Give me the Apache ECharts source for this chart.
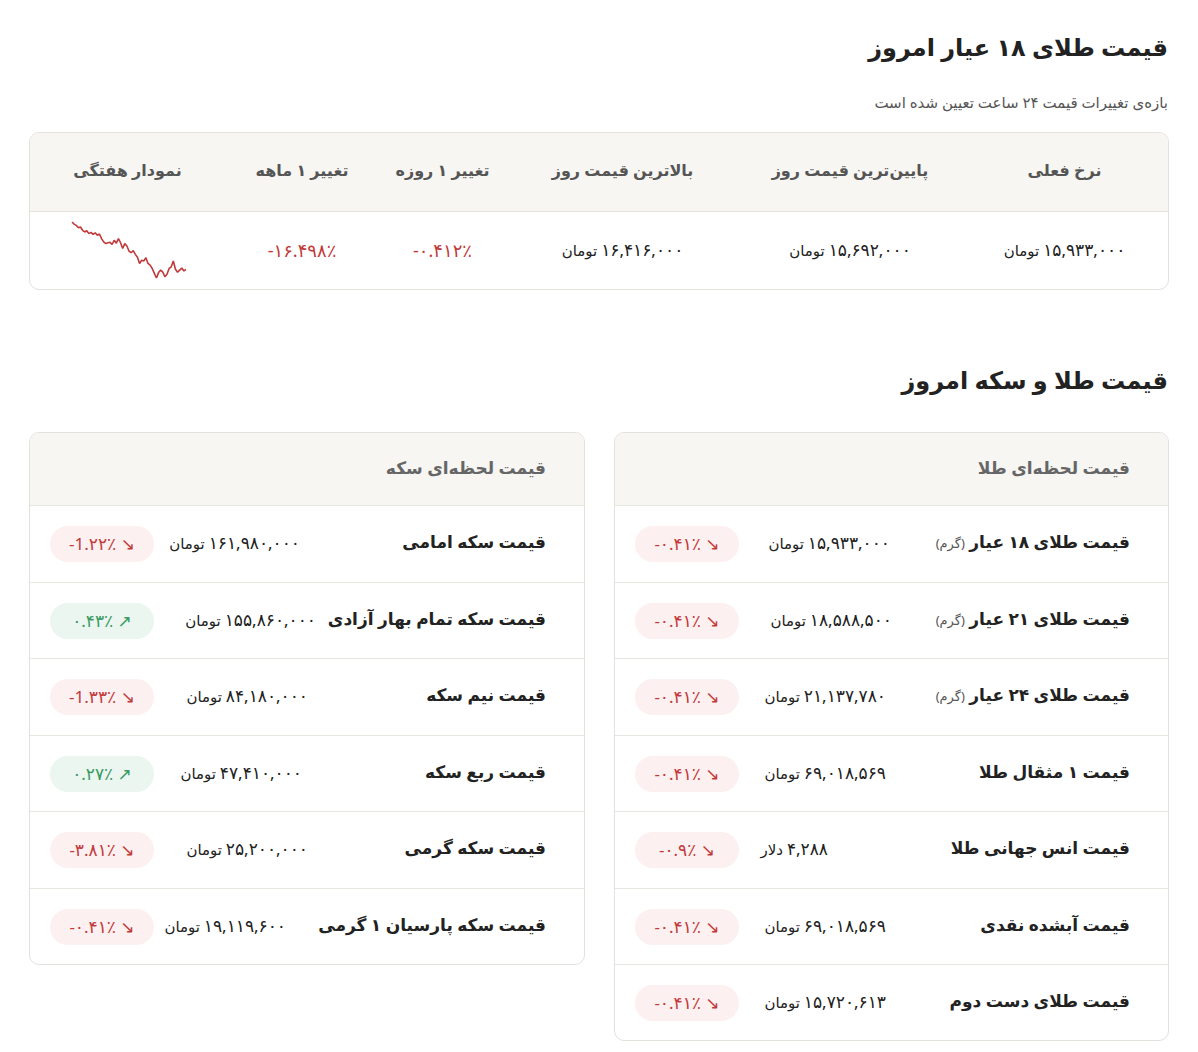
<!DOCTYPE html>
<html><head><meta charset="utf-8">
<script src="https://cdn.jsdelivr.net/npm/echarts@6/dist/echarts.min.js"></script>
<style>
body{margin:0;width:1198px;height:1052px;background:#fff;font-family:"Noto Sans","DejaVu Sans",sans-serif;color:#222;position:relative;overflow:hidden}
.abs{position:absolute}
.t1{right:30px;font-size:24px;font-weight:700}
.box{border:1px solid #e3e1dc;border-radius:10px;overflow:hidden;background:#fff}
.hdr{background:#f7f6f3;color:#555;font-size:16px;font-weight:600}
.cell{position:absolute;text-align:center;font-size:15px}
.row{position:absolute;left:0;right:0;height:76px;border-top:1px solid #e8e6e1}
.nm{position:absolute;right:38px;top:24px;font-size:17px;font-weight:700;direction:rtl}
.nm small{font-size:13px;font-weight:400;color:#555}
.pr{position:absolute;top:25px;font-size:15px;direction:rtl}
.pr b{font-size:17px;font-weight:400;letter-spacing:0.5px}
.bd{position:absolute;top:20px;height:36px;border-radius:18px;font-size:17px;line-height:36px;text-align:center;width:104px;direction:ltr}
.dn{background:#fdf0f0;color:#c23a3a}.up{background:#eaf6ef;color:#3a9a62}
</style></head><body>
<div class="abs t1" style="top:30px">قیمت طلای ۱۸ عیار امروز</div>
<div class="abs" style="right:30px;top:92px;font-size:15px;color:#555;direction:rtl">بازه‌ی تغییرات قیمت ۲۴ ساعت تعیین شده است</div>
<div class="abs box" id="tbl" style="left:29px;top:132px;width:1138px;height:156px"></div>
<div class="abs" id="spark" style="left:64px;top:214px;width:130px;height:72px"></div>
<div class="abs t1" style="top:363px">قیمت طلا و سکه امروز</div>
<div class="abs box" id="gold" style="left:614px;top:432px;width:553px;height:607px"></div>
<div class="abs box" id="coin" style="left:29px;top:432px;width:554px;height:531px"></div>
<script>
var headers=['نرخ فعلی','پایین‌ترین قیمت روز','بالاترین قیمت روز','تغییر ۱ روزه','تغییر ۱ ماهه','نمودار هفتگی'];
var topValues=['۱۵,۹۳۳,۰۰۰','۱۵,۶۹۲,۰۰۰','۱۶,۴۱۶,۰۰۰','-۰.۴۱۲٪','-۱۶.۴۹۸٪',''];
var colEdges=[1138,931,709,476,349,195,0];
var sparkValues=[100,99.5,99.2,98.6,98.8,98,97.6,97.9,97.2,97.5,97,97.4,96.8,97.1,96,95.2,94.8,95,95.1,94.6,95.6,94.9,96,95,93.6,94.8,94.2,93,92.6,93.1,92.2,91.5,90,90.8,90.6,91.4,90,89.6,88.8,87.6,86.5,87.8,88.4,87.9,86.8,87.4,88.8,89.2,90.6,88.6,87.9,88.4,88.9,88.2,88.6];
var goldNames=['قیمت طلای ۱۸ عیار <small>(گرم)</small>','قیمت طلای ۲۱ عیار <small>(گرم)</small>','قیمت طلای ۲۴ عیار <small>(گرم)</small>','قیمت ۱ مثقال طلا','قیمت انس جهانی طلا','قیمت آبشده نقدی','قیمت طلای دست دوم'];
var goldPrices=['۱۵,۹۳۳,۰۰۰','۱۸,۵۸۸,۵۰۰','۲۱,۱۳۷,۷۸۰','۶۹,۰۱۸,۵۶۹','۴,۲۸۸','۶۹,۰۱۸,۵۶۹','۱۵,۷۲۰,۶۱۳'];
var goldUnits=['تومان','تومان','تومان','تومان','دلار','تومان','تومان'];
var goldChanges=['-۰.۴۱٪','-۰.۴۱٪','-۰.۴۱٪','-۰.۴۱٪','-۰.۹٪','-۰.۴۱٪','-۰.۴۱٪'];
var coinNames=['قیمت سکه امامی','قیمت سکه تمام بهار آزادی','قیمت نیم سکه','قیمت ربع سکه','قیمت سکه گرمی','قیمت سکه پارسیان ۱ گرمی'];
var coinPrices=['۱۶۱,۹۸۰,۰۰۰','۱۵۵,۸۶۰,۰۰۰','۸۴,۱۸۰,۰۰۰','۴۷,۴۱۰,۰۰۰','۲۵,۲۰۰,۰۰۰','۱۹,۱۱۹,۶۰۰'];
var coinChanges=['-1.۲۲٪','۰.۴۳٪','-1.۳۳٪','۰.۲۷٪','-۳.۸۱٪','-۰.۴۱٪'];
var coinUp=[false,true,false,true,false,false];
var coinRight=[284,268,276,282,276,298];

var tbl=document.getElementById('tbl');
var h='<div class="hdr" style="position:absolute;left:0;right:0;top:0;height:78px;border-bottom:1px solid #e3e1dc"></div>';
for(var i=0;i<6;i++){
  var l=colEdges[i+1],w=colEdges[i]-colEdges[i+1];
  var txt=i<3?'<span style="font-size:17px">'+topValues[i]+'</span> تومان':topValues[i];
  h+='<div class="cell" style="left:'+l+'px;width:'+w+'px;top:26px;color:#555;font-weight:600;font-size:16px">'+headers[i]+'</div>';
  h+='<div class="cell" style="left:'+l+'px;width:'+w+'px;top:105px;'+(i>2?'direction:ltr;color:#c23a3a;font-size:18px':'direction:rtl')+'">'+txt+'</div>';
}
tbl.innerHTML=h;

function card(el,title,names,prices,units,changes,up,rights){
  var s='<div class="hdr" style="position:absolute;left:0;right:0;top:0;height:72px"><div style="position:absolute;right:38px;top:23px;font-size:17px;color:#666">'+title+'</div></div>';
  for(var i=0;i<names.length;i++){
    var u=up&&up[i];
    s+='<div class="row" style="top:'+(72+i*76.5)+'px"><div class="nm">'+names[i]+'</div>'+
      '<div class="pr" style="right:'+rights[i]+'px"><b>'+prices[i]+'</b> '+units[i]+'</div>'+
      '<div class="bd '+(u?'up':'dn')+'" style="left:20px">'+changes[i]+' '+(u?'↗':'↘')+'</div></div>';
  }
  el.innerHTML=s;
}
card(document.getElementById('gold'),'قیمت لحظه‌ای طلا',goldNames,goldPrices,goldUnits,goldChanges,null,[278,276,282,282,340,282,282]);
card(document.getElementById('coin'),'قیمت لحظه‌ای سکه',coinNames,coinPrices,['تومان','تومان','تومان','تومان','تومان','تومان'],coinChanges,coinUp,coinRight);

var chart=echarts.init(document.getElementById('spark'));
chart.setOption({
  animation:false,
  grid:{left:8,right:8,top:8,bottom:8},
  xAxis:{type:'category',show:false,boundaryGap:false,data:sparkValues.map(function(v,i){return i;})},
  yAxis:{type:'value',show:false,min:'dataMin',max:'dataMax'},
  series:[{type:'line',data:sparkValues,symbol:'none',lineStyle:{color:'#c0393b',width:1.6}}]
});
</script>
</body></html>
